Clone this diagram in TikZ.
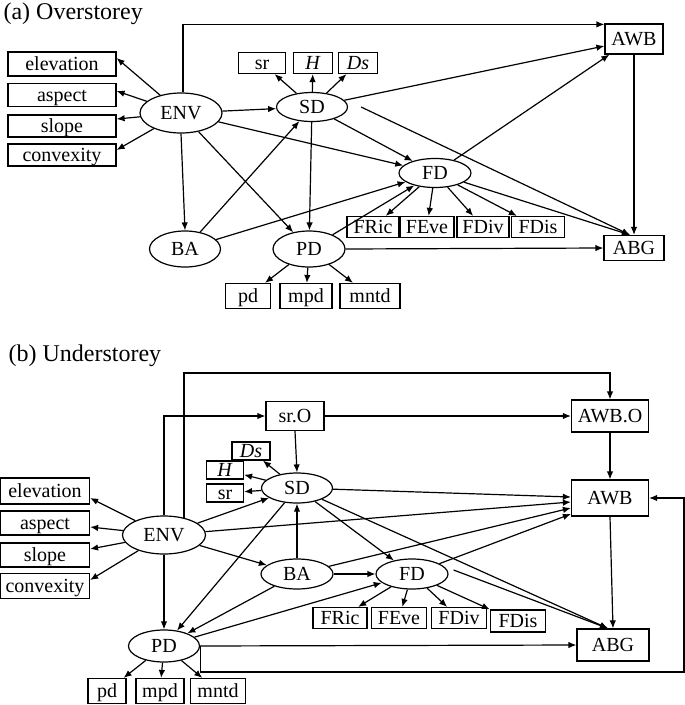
\documentclass[tikz,border=0pt]{standalone}
\usepackage{fontspec}
\setmainfont{Liberation Serif}
\usetikzlibrary{shapes.geometric,arrows.meta,calc}
\begin{document}
\begin{tikzpicture}[x=1pt,y=-1pt,line width=1.2pt,
  every node/.style={font=\fontsize{20}{22}\selectfont,inner sep=0pt},
  rbox/.style={draw,rectangle,line width=1.2pt,text height=14.6pt,text depth=1pt},
  ell/.style={draw,ellipse,line width=1.2pt,text height=14.6pt,text depth=1pt},
  ttl/.style={font=\fontsize{24}{27}\selectfont,anchor=base west},
  arr/.style={-{Latex[length=8pt,width=6.5pt]}}]
\useasboundingbox (0,0) rectangle (685,705);

% ---------------- (a) Overstorey ----------------
\node[ttl] (ta) at (3,19) {(a) Overstorey};
\node[rbox,minimum width=108pt,minimum height=24pt] (elea) at (62,64) {elevation};
\node[rbox,minimum width=108pt,minimum height=23pt] (aspa) at (62,95) {aspect};
\node[rbox,minimum width=108pt,minimum height=22pt] (slpa) at (62,126) {slope};
\node[rbox,minimum width=108pt,minimum height=22pt] (cnva) at (62,155) {convexity};
\node[ell,minimum width=82pt,minimum height=40pt] (ENVa) at (181,113) {ENV};
\node[ell,minimum width=71pt,minimum height=29pt] (SDa) at (312,107) {SD};
\node[rbox,minimum width=47pt,minimum height=21pt] (sra) at (262,63) {sr};
\node[rbox,minimum width=39pt,minimum height=21pt] (Ha) at (313,63) {\textit{H}};
\node[rbox,minimum width=39pt,minimum height=21pt] (Dsa) at (358,63) {\textit{Ds}};
\node[rbox,minimum width=58pt,minimum height=30pt] (AWBa) at (634,39) {AWB};
\node[ell,minimum width=72pt,minimum height=29pt] (FDa) at (435,173) {FD};
\node[rbox,minimum width=60pt,minimum height=25pt] (ABGa) at (634,248) {ABG};
\node[ell,minimum width=71pt,minimum height=36pt] (BAa) at (185,249) {BA};
\node[ell,minimum width=72pt,minimum height=36pt] (PDa) at (309,249) {PD};
\node[rbox,minimum width=45pt,minimum height=25pt] (pda) at (248,296) {pd};
\node[rbox,minimum width=52pt,minimum height=25pt] (mpda) at (306,296) {mpd};
\node[rbox,minimum width=60pt,minimum height=25pt] (mntda) at (370,296) {mntd};
\node[rbox,minimum width=52pt,minimum height=21pt] (FRica) at (373,227) {FRic};
\node[rbox,minimum width=54pt,minimum height=21pt] (FEvea) at (427,227) {FEve};
\node[rbox,minimum width=52pt,minimum height=21pt] (FDiva) at (483,227) {FDiv};
\node[rbox,minimum width=53pt,minimum height=21pt] (FDisa) at (538,227) {FDis};

\draw[arr] (ENVa) -- ($(elea.east)+(0,-6)$);
\draw[arr] (ENVa) -- ($(aspa.east)+(0,-4)$);
\draw[arr] (ENVa) -- ($(slpa.east)+(0,-7)$);
\draw[arr] (ENVa) -- ($(cnva.east)+(0,-5)$);
\draw[arr] ($(ENVa.north)+(2,0)$) |- ($(AWBa.north west)+(0,1)$);
\draw[arr] (ENVa) -- (SDa);
\draw[arr] (ENVa) -- (FDa);
\draw[arr] (ENVa.south) -- (BAa.north);
\draw[arr] (ENVa) -- (PDa);
\draw[arr] (SDa) -- (sra);
\draw[arr] (SDa) -- (Ha);
\draw[arr] (SDa) -- (Dsa);
\draw[arr] (SDa) -- ($(AWBa.west)+(0,7)$);
\draw[arr] ($(SDa.east)+(13,0)$) -- ($(ABGa.north)+(-4,0)$);
\draw[arr] (SDa) -- (FDa);
\draw[arr] (SDa) -- (PDa);
\draw[arr] (BAa) -- (SDa);
\draw[arr] (BAa) -- (FDa);
\draw[arr] (PDa) -- (FDa);
\draw[arr] (PDa.east) -- (ABGa.west);
\draw[arr] (PDa) -- (pda);
\draw[arr] (PDa) -- (mpda);
\draw[arr] (PDa) -- (mntda);
\draw[arr] (FDa) -- ($(AWBa.south west)+(5,0)$);
\draw[arr] (FDa) -- ($(ABGa.north)+(-4,0)$);
\draw[arr] (FDa) -- (FRica);
\draw[arr] (FDa) -- (FEvea);
\draw[arr] (FDa) -- (FDiva);
\draw[arr] (FDa) -- (FDisa);
\draw[arr] (AWBa.south) -- (ABGa.north);

% ---------------- (b) Understorey ----------------
\node[ttl] (tb) at (8,361) {(b) Understorey};
\node[rbox,minimum width=89pt,minimum height=26pt] (eleb) at (45,491) {elevation};
\node[rbox,minimum width=89pt,minimum height=24pt] (aspb) at (45,523) {aspect};
\node[rbox,minimum width=89pt,minimum height=24pt] (slpb) at (45,555) {slope};
\node[rbox,minimum width=89pt,minimum height=25pt] (cnvb) at (45,586) {convexity};
\node[ell,minimum width=83pt,minimum height=38pt] (ENVb) at (164,535) {ENV};
\node[rbox,minimum width=58pt,minimum height=29pt] (srO) at (295,416) {sr.O};
\node[rbox,minimum width=77pt,minimum height=32pt] (AWBO) at (610,416) {AWB.O};
\node[rbox,minimum width=77pt,minimum height=36pt] (AWBb) at (610,498) {AWB};
\node[ell,minimum width=71pt,minimum height=30pt] (SDb) at (297,488) {SD};
\node[rbox,minimum width=38pt,minimum height=18pt] (Dsb) at (251,451) {\textit{Ds}};
\node[rbox,minimum width=37pt,minimum height=18pt] (Hb) at (225,470) {\textit{H}};
\node[rbox,minimum width=37pt,minimum height=18pt] (srb) at (225,493) {sr};
\node[ell,minimum width=72pt,minimum height=30pt] (BAb) at (297,574) {BA};
\node[ell,minimum width=72pt,minimum height=30pt] (FDb) at (412,574) {FD};
\node[ell,minimum width=71pt,minimum height=32pt] (PDb) at (164,646) {PD};
\node[rbox,minimum width=72pt,minimum height=32pt] (ABGb) at (613,645) {ABG};
\node[rbox,minimum width=38pt,minimum height=25pt] (pdb) at (107,691) {pd};
\node[rbox,minimum width=48pt,minimum height=25pt] (mpdb) at (160,691) {mpd};
\node[rbox,minimum width=55pt,minimum height=25pt] (mntdb) at (218,691) {mntd};
\node[rbox,minimum width=54pt,minimum height=21pt] (FRicb) at (340,618) {FRic};
\node[rbox,minimum width=55pt,minimum height=21pt] (FEveb) at (399,618) {FEve};
\node[rbox,minimum width=55pt,minimum height=21pt] (FDivb) at (459,618) {FDiv};
\node[rbox,minimum width=55pt,minimum height=22pt] (FDisb) at (518,621) {FDis};
\coordinate (topb) at (400,373);
\coordinate (loopc) at (684,672);

\draw[arr] (ENVb) -- ($(eleb.east)+(0,7)$);
\draw[arr] (ENVb) -- ($(aspb.east)+(0,4)$);
\draw[arr] (ENVb) -- ($(slpb.east)+(0,-6)$);
\draw[arr] (ENVb) -- ($(cnvb.east)+(0,-6)$);
\draw[arr] ($(ENVb)+(20,-16.6)$) |- (topb) -| (AWBO.north);
\draw[arr] (ENVb.north) |- (srO.west);
\draw[arr] (srO.east) -- (AWBO.west);
\draw[arr] (AWBO.south) -- (AWBb.north);
\draw[arr] (srO.south) -- (SDb.north);
\draw[arr] (SDb) -- (Dsb);
\draw[arr] (SDb) -- (Hb);
\draw[arr] (SDb) -- (srb);
\draw[arr] (ENVb) -- (SDb);
\draw[arr] (ENVb) -- ($(AWBb.west)+(0,4)$);
\draw[arr] (ENVb) -- (BAb);
\draw[arr] (ENVb.south) -- (PDb.north);
\draw[arr] (BAb.north) -- (SDb.south);
\draw[arr] (SDb) -- (PDb);
\draw[arr] (BAb) -- (PDb);
\draw[arr] (PDb) -- (FDb);
\draw[arr] (BAb.east) -- (FDb.west);
\draw[arr] (SDb) -- (FDb);
\draw[arr] (SDb) -- ($(AWBb.west)+(0,-1)$);
\draw[arr] (BAb) -- ($(AWBb.west)+(0,10)$);
\draw[arr] (FDb) -- ($(AWBb.west)+(0,16)$);
\draw[arr] (SDb) -- ($(ABGb.north)+(-5,0)$);
\draw[arr] ($(FDb.east)+(5,-4)$) -- ($(ABGb.north)+(-5,0)$);
\draw[arr] (AWBb.south) -- (ABGb.north);
\draw[arr] (PDb.east) -- (ABGb.west);
\draw[arr] (PDb.east) |- (loopc) |- (AWBb.east);
\draw[arr] (FDb) -- (FRicb);
\draw[arr] (FDb) -- (FEveb);
\draw[arr] (FDb) -- (FDivb);
\draw[arr] (FDb) -- (FDisb.north west);
\draw[arr] (PDb) -- (pdb);
\draw[arr] (PDb) -- (mpdb);
\draw[arr] (PDb) -- (mntdb);
\end{tikzpicture}
\end{document}
